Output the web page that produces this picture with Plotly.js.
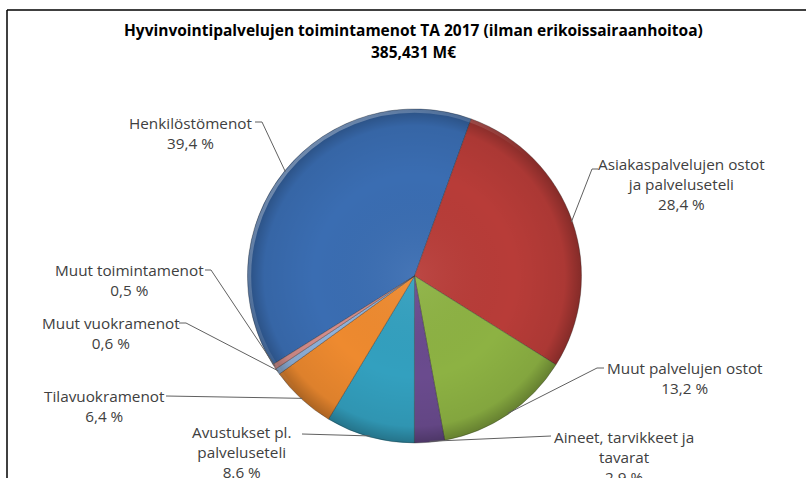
<!DOCTYPE html>
<html>
<head>
<meta charset="utf-8">
<script src="https://cdn.plot.ly/plotly-3.0.1.min.js"></script>
<style>html,body{margin:0;padding:0;background:#fff;}#chart{width:806px;height:478px;}</style>
</head>
<body>
<div id="chart"></div>
<script>
// ---- data ----
const categories = ['Henkilöstömenot', 'Asiakaspalvelujen ostot ja palveluseteli', 'Muut palvelujen ostot',
  'Aineet, tarvikkeet ja tavarat', 'Avustukset pl. palveluseteli', 'Tilavuokramenot',
  'Muut vuokramenot', 'Muut toimintamenot'];
const labelLines = [['Henkilöstömenot'], ['Asiakaspalvelujen ostot', 'ja palveluseteli'], ['Muut palvelujen ostot'],
  ['Aineet, tarvikkeet ja', 'tavarat'], ['Avustukset pl.', 'palveluseteli'], ['Tilavuokramenot'],
  ['Muut vuokramenot'], ['Muut toimintamenot']];
const values = [39.4, 28.4, 13.2, 2.9, 8.6, 6.4, 0.6, 0.5];
const percentLabels = ['39,4 %', '28,4 %', '13,2 %', '2,9 %', '8.6 %', '6,4 %', '0,6 %', '0,5 %'];
const titleLine1 = 'Hyvinvointipalvelujen toimintamenot TA 2017 (ilman erikoissairaanhoitoa)';
const titleLine2 = '385,431 M€';

// ---- styling / layout ----
const colors = ['#3a6db2', '#b83c38', '#8db243', '#6a4b8e', '#33a0bf', '#ee8a2f', '#8fb1da', '#d48d8b'];
const W = 806, H = 478;
const CX = 414.5, CY = 276, R = 167;   // pie centre & radius in px
const ROT = -122;                        // start angle of first slice
const FONT = 'Open Sans, Liberation Sans, sans-serif';
const TXT = '#404040';
const LSIZE = 15.3;
// label placement: text centre x, first-line centre y, leader start (x,y), optional elbow
const labelPos = [
  {x: 190, y: 121, sx: 255, sy: 122, ex: 262, ey: 122},
  {x: 681, y: 163, sx: 598, sy: 169, ex: 592, ey: 169},
  {x: 685, y: 366, sx: 604, sy: 368, ex: 597, ey: 368},
  {x: 624, y: 435, sx: 551, sy: 436, ex: null, ey: null},
  {x: 241, y: 430, sx: 302, sy: 434, ex: null, ey: null},
  {x: 104, y: 394, sx: 166, sy: 396, ex: null, ey: null},
  {x: 111, y: 321, sx: 179, sy: 323, ex: 186, ey: 323},
  {x: 129, y: 268, sx: 205, sy: 270, ex: 211, ey: 270}
];

const px = v => v / W;
const py = v => 1 - v / H;

// slice mid-angles from the data
const total = values.reduce((a, b) => a + b, 0);
let acc = 0;
const mids = values.map(v => { const m = ROT + (acc + v / 2) / total * 360; acc += v; return m * Math.PI / 180; });

const shapes = [
  {type: 'line', xref: 'paper', yref: 'paper', x0: px(7), y0: py(10), x1: 1, y1: py(10), line: {color: '#000', width: 1.5}},
  {type: 'line', xref: 'paper', yref: 'paper', x0: px(7), y0: py(10), x1: px(7), y1: 0, line: {color: '#000', width: 1.5}}
];
const annotations = [
  {xref: 'paper', yref: 'paper', x: px(414), y: py(30), xanchor: 'center', yanchor: 'middle', showarrow: false,
   text: '<b>' + titleLine1 + '</b>', font: {family: FONT, size: 15.5, color: '#000'}},
  {xref: 'paper', yref: 'paper', x: px(414), y: py(52), xanchor: 'center', yanchor: 'middle', showarrow: false,
   text: '<b>' + titleLine2 + '</b>', font: {family: FONT, size: 15.5, color: '#000'}}
];
labelPos.forEach((p, i) => {
  const edgeX = CX + (R - 1) * Math.sin(mids[i]);
  const edgeY = CY - (R - 1) * Math.cos(mids[i]);
  let path = 'M ' + px(p.sx) + ',' + py(p.sy);
  if (p.ex !== null) path += ' L ' + px(p.ex) + ',' + py(p.ey);
  path += ' L ' + px(edgeX) + ',' + py(edgeY);
  shapes.push({type: 'path', xref: 'paper', yref: 'paper', path: path, line: {color: '#606060', width: 1}});
  annotations.push({
    xref: 'paper', yref: 'paper', x: px(p.x), y: py(p.y - 10.5), xanchor: 'center', yanchor: 'top',
    text: labelLines[i].concat([percentLabels[i]]).join('<br>'), showarrow: false, align: 'center',
    font: {family: FONT, size: LSIZE, color: TXT}
  });
});

// subtle radial shading overlay (Excel-like soft edge)
const svg = '<svg xmlns="http://www.w3.org/2000/svg" width="200" height="200" viewBox="0 0 200 200">' +
  '<defs><radialGradient id="g" cx="50%" cy="50%" r="50%">' +
  '<stop offset="0" stop-color="#fff" stop-opacity="0.06"/>' +
  '<stop offset="0.6" stop-color="#000" stop-opacity="0"/>' +
  '<stop offset="0.9" stop-color="#000" stop-opacity="0.07"/>' +
  '<stop offset="1" stop-color="#000" stop-opacity="0.28"/></radialGradient>' +
  '<linearGradient id="h" x1="0" y1="0" x2="1" y2="1">' +
  '<stop offset="0" stop-color="#fff" stop-opacity="0.45"/>' +
  '<stop offset="0.5" stop-color="#fff" stop-opacity="0"/></linearGradient></defs>' +
  '<circle cx="100" cy="100" r="100" fill="url(#g)"/>' +
  '<circle cx="100" cy="100" r="98.8" fill="none" stroke="url(#h)" stroke-width="2"/></svg>';

const data = [{
  type: 'pie',
  labels: categories,
  values: values,
  sort: false,
  direction: 'clockwise',
  rotation: ROT,
  textinfo: 'none',
  hoverinfo: 'label+percent',
  marker: {colors: colors, line: {color: 'rgba(40,40,40,0.35)', width: 1}},
  domain: {x: [px(CX - R), px(CX + R)], y: [py(CY + R), py(CY - R)]},
  showlegend: false
}];

const layout = {
  width: W, height: H,
  margin: {l: 0, r: 0, t: 0, b: 0},
  paper_bgcolor: '#fff',
  showlegend: false,
  shapes: shapes,
  annotations: annotations,
  images: [{
    source: 'data:image/svg+xml;charset=utf-8,' + encodeURIComponent(svg),
    xref: 'paper', yref: 'paper', x: px(CX - R), y: py(CY - R),
    sizex: 2 * R / W, sizey: 2 * R / H, sizing: 'stretch', xanchor: 'left', yanchor: 'top', layer: 'above'
  }]
};

Plotly.newPlot('chart', data, layout, {displayModeBar: false, staticPlot: true});
</script>
</body>
</html>
